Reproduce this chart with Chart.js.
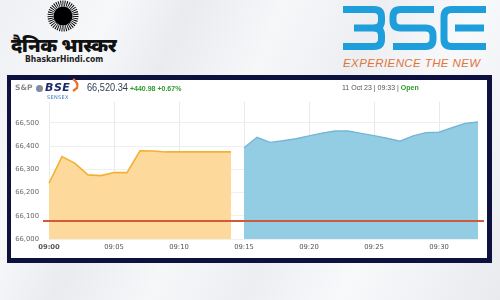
<!DOCTYPE html>
<html>
<head>
<meta charset="utf-8">
<script src="https://cdn.jsdelivr.net/npm/chart.js@4.4.0/dist/chart.umd.min.js"></script>
<style>
  html,body{margin:0;padding:0;}
  body{width:500px;height:300px;position:relative;overflow:hidden;
    background:linear-gradient(115deg,#eef0f3 0%,#f7f8fa 18%,#e9ebef 30%,#f6f7f9 45%,#eceef2 60%,#f8f9fb 75%,#e8eaee 100%);
    font-family:"DejaVu Sans",sans-serif;}
  .abs{position:absolute;white-space:nowrap;}
  #frame{position:absolute;left:7px;top:75px;width:476px;height:178px;border:solid #0c1140;border-width:5px 5px 5px 4px;background:#fff;}
  #wrap{position:absolute;left:11px;top:80px;width:476px;height:178px;}
</style>
</head>
<body>
<!-- header logos -->
<svg class="abs" style="left:0;top:0" width="500" height="75">
  <circle cx="63" cy="16" r="9.5" fill="#000"/>
  <circle cx="63" cy="16" r="12.5" fill="none" stroke="#000" stroke-width="6" stroke-dasharray="0.9 1.1"/>
  <g fill="none" stroke="#1e9fdb" stroke-width="7" stroke-linecap="butt" stroke-linejoin="round">
    <path d="M343,9.5 H374 Q381.5,9.5 381.5,17 V20.5 Q381.5,28 374,28 H354"/>
    <path d="M374,28 Q381.5,28 381.5,35.5 V39 Q381.5,46.5 374,46.5 H343"/>
    <path d="M434,9.5 H400.5 Q393,9.5 393,17 V20.5 Q393,28 400.5,28 H425.5 Q433,28 433,35.5 V39 Q433,46.5 425.5,46.5 H393"/>
    <path d="M486,9.5 H451.5 Q444,9.5 444,17 V39 Q444,46.5 451.5,46.5 H486"/>
    <path d="M455,28 H484"/>
  </g>
</svg>
<div class="abs" style="left:11px;top:31px;font-family:'Noto Sans','DejaVu Sans',sans-serif;font-weight:900;font-size:19.5px;color:#111;letter-spacing:-0.5px">दैनिक भास्कर</div>
<div class="abs" style="left:25px;top:54px;font-family:'DejaVu Sans Condensed','DejaVu Sans',sans-serif;font-weight:bold;font-size:8.5px;color:#222">BhaskarHindi.com</div>
<div class="abs" style="left:343px;top:57px;font-family:'Liberation Sans',sans-serif;font-style:italic;font-size:11.5px;color:#e0753a;letter-spacing:0.4px">EXPERIENCE THE NEW</div>

<div id="frame"></div>
<div id="wrap"><canvas id="c" width="476" height="178"></canvas></div>

<!-- chart header texts -->
<div class="abs" style="left:15px;top:83px;font-family:'DejaVu Sans',sans-serif;font-weight:bold;font-size:7.5px;color:#8a8a8a">S&amp;P</div>
<svg class="abs" style="left:35px;top:84px" width="10" height="10"><circle cx="4.5" cy="4.5" r="3.5" fill="#6c8fb5"/><circle cx="5.5" cy="4" r="1.6" fill="#e07a3a"/></svg>
<div class="abs" style="left:45px;top:81px;font-family:'DejaVu Sans',sans-serif;font-weight:bold;font-style:italic;font-size:11px;color:#1b2a6b;letter-spacing:0.5px">BSE</div>
<svg class="abs" style="left:71px;top:78px" width="10" height="16"><path d="M2,1 Q8,5 6,10 L2,13" fill="none" stroke="#e8702a" stroke-width="2.2"/></svg>
<div class="abs" style="left:47px;top:94px;font-family:'DejaVu Sans',sans-serif;font-size:5px;color:#3a78c0;letter-spacing:0.3px">SENSEX</div>
<div class="abs" style="left:87px;top:81px;font-family:'Liberation Sans',sans-serif;font-size:11.5px;color:#2d3c50;transform:scaleX(0.8);transform-origin:0 0">66,520.34</div>
<div class="abs" style="left:130px;top:85px;font-family:'Liberation Sans',sans-serif;font-weight:bold;font-size:7px;color:#2e9a2e">+440.98 +0.67%</div>
<div class="abs" style="left:342px;top:84px;font-family:'Liberation Sans',sans-serif;font-size:7px;color:#555">11 Oct 23 | 09:33 | <span style="color:#2e9a2e;font-weight:bold">Open</span></div>

<script>
// ---- data ----
const timeLabels = ['09:00','09:01','09:02','09:03','09:04','09:05','09:06','09:07','09:08','09:09',
  '09:10','09:11','09:12','09:13','09:14','09:15','09:16','09:17','09:18','09:19',
  '09:20','09:21','09:22','09:23','09:24','09:25','09:26','09:27','09:28','09:29',
  '09:30','09:31','09:32','09:33'];
const preOpenValues = [66240,66355,66326,66276,66273,66286,66286,66380,66379,66375,
  66375,66375,66375,66375,66375];
const normalValues = [66393,66438,66416,66423,66432,66444,66456,66465,66465,66455,
  66445,66434,66421,66444,66458,66460,66479,66498,66504];
const previousClose = 66079.36;
const yTickValues = [66000,66100,66200,66300,66400,66500];
const xTickLabels = ['09:00','09:05','09:10','09:15','09:20','09:25','09:30'];

const preData = timeLabels.map((t,i)=> i < preOpenValues.length ? preOpenValues[i] : null);
const normStart = timeLabels.length - normalValues.length;
const normData = timeLabels.map((t,i)=> i >= normStart ? normalValues[i-normStart] : null);

const prevClosePlugin = {
  id:'prevClose',
  afterDatasetsDraw(chart){
    const {ctx, chartArea:a, scales:{y}} = chart;
    const py = Math.round(y.getPixelForValue(previousClose));
    ctx.save();
    ctx.strokeStyle = '#cf5a3c';
    ctx.lineWidth = 2;
    ctx.beginPath();
    ctx.moveTo(a.left-6, py);
    ctx.lineTo(a.right+6, py);
    ctx.stroke();
    ctx.restore();
  }
};

new Chart(document.getElementById('c'), {
  type:'line',
  data:{
    labels: timeLabels,
    datasets:[
      {data: preData, borderColor:'#f2b132', backgroundColor:'#fdda9c', borderWidth:1.6,
       fill:'start', pointRadius:0, tension:0, spanGaps:false},
      {data: normData, borderColor:'#74b6d4', backgroundColor:'#93cde4', borderWidth:1.4,
       fill:'start', pointRadius:0, tension:0, spanGaps:false}
    ]
  },
  options:{
    responsive:false, animation:false, devicePixelRatio:1,
    layout:{padding:{top:22,right:9,left:0,bottom:0}},
    plugins:{legend:{display:false}, tooltip:{enabled:false}},
    scales:{
      x:{
        offset:false,
        grid:{color:'#e9e9e9', drawTicks:false, lineWidth:1},
        border:{display:false},
        afterFit(s){ s.height = 19; },
        ticks:{
          autoSkip:false, maxRotation:0, padding:4,
          color:'#555',
          font:(ctx)=>({family:'DejaVu Sans', size:6.8, weight: ctx.index===0 ? 'bold':'normal'}),
          callback:(v,i)=> xTickLabels.includes(timeLabels[i]) ? timeLabels[i] : null
        }
      },
      y:{
        min:66000, max:66590,
        afterBuildTicks(s){ s.ticks = yTickValues.map(v=>({value:v})); },
        afterFit(s){ s.width = 38; },
        grid:{color:'#efefef', drawTicks:false},
        border:{display:false},
        ticks:{
          padding:10, color:'#666',
          font:{family:'DejaVu Sans', size:6.8},
          callback:(v)=> v.toLocaleString('en-US')
        }
      }
    }
  },
  plugins:[prevClosePlugin]
});
</script>
</body>
</html>
